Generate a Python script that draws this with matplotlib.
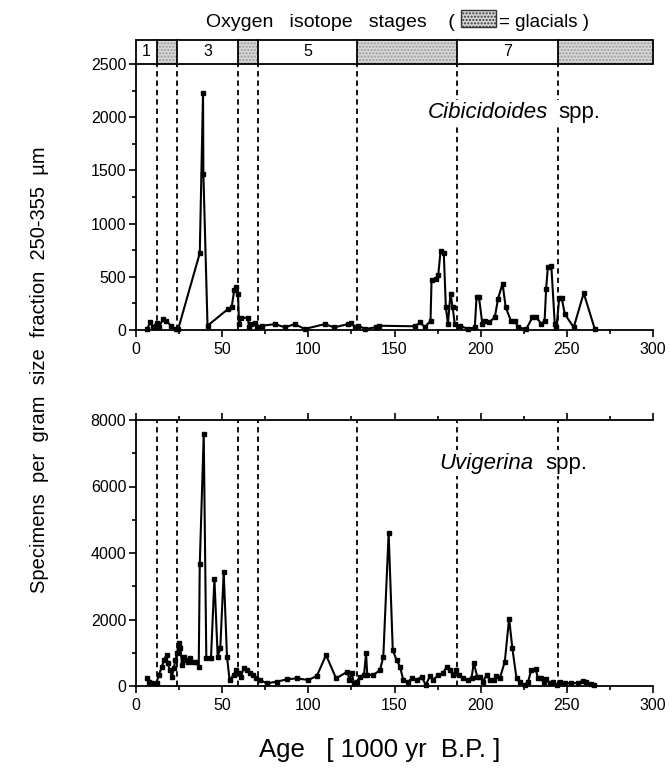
import matplotlib
matplotlib.use("Agg")
import matplotlib.pyplot as plt
from matplotlib.patches import Rectangle
from matplotlib.ticker import MultipleLocator

plt.rcParams['font.family'] = ['Liberation Sans', 'DejaVu Sans']

# ---------------- data ----------------
stage_bounds = [0, 12, 24, 59, 71, 128, 186, 245, 300]
stage_labels = ['1', '', '3', '', '5', '', '7', '']
stage_glacial = [False, True, False, True, False, True, False, True]
boundaries = [12, 24, 59, 71, 128, 186, 245]

cib_age = [6.5, 8.2, 10, 12, 13.3, 15.6, 17.5, 20.3, 23, 24.5,
           37, 38.9, 39.1, 41.5, 53.6, 55.5, 57, 58.3, 59.2, 59.8,
           61, 65, 65.5, 67, 69, 70.5, 73, 80.7, 86.5, 92,
           98, 109.5, 115, 123, 125, 127, 129, 133, 139, 141,
           161.8, 165, 167.6, 170.9, 171.5, 174, 175.4, 176.7, 178.6, 179.8,
           181, 182.5, 183.7, 185, 188, 192.7, 196.6, 197.6, 199, 201,
           202.3, 204.9, 208.2, 210.1, 212.7, 214.5, 217.5, 219.8, 221.7, 226.5,
           230, 232.3, 235.2, 237.1, 238, 239, 241, 243, 244, 245.6,
           247, 248.8, 254, 259.8, 266.2]
cib_val = [10, 72, 25, 70, 25, 100, 85, 40, 10, 10,
           722, 2230, 1470, 40, 200, 215, 373, 405, 340, 55,
           115, 115, 25, 55, 70, 25, 40, 55, 25, 55,
           10, 55, 25, 55, 70, 25, 40, 10, 25, 40,
           35, 72, 25, 88, 469, 475, 517, 739, 723, 215,
           56, 342, 215, 56, 40, 10, 25, 310, 310, 56,
           88, 72, 119, 295, 437, 215, 88, 88, 25, 10,
           119, 119, 56, 88, 390, 596, 602, 56, 25, 303,
           303, 150, 25, 347, 10]

uvi_age = [6.1, 7.4, 9.4, 11.9, 13.2, 15.1, 16.1, 17.7, 18.4, 19.6,
           20.9, 21.9, 22.9, 23.8, 24.8, 25.8, 26.7, 27.7, 28.7, 30,
           31.6, 33.1, 35, 36.4, 37, 39.3, 40.8, 43.5, 45.5, 47.4,
           48.9, 50.9, 52.8, 54.3, 56.6, 58.2, 59.5, 60.9, 62.4, 64.4,
           65.9, 67.8, 69.8, 72.1, 75.9, 81.7, 87.5, 93.3, 100, 104.9,
           110.3, 116.1, 122.7, 123.8, 125.2, 126.5, 128.1, 130, 132.3, 133.5,
           134.2, 137.7, 141.6, 143.5, 146.6, 149, 151.2, 153.2, 155.1, 158,
           160, 162.8, 165.7, 168.2, 170.5, 172.4, 175.3, 178.2, 180.2, 182.1,
           184, 185.6, 187.5, 189.9, 192.7, 194.7, 196, 198, 199.9, 201.4,
           203.4, 205.3, 207.6, 209.1, 211.1, 214, 216.5, 218.4, 220.8, 222.6,
           225.5, 227.5, 229.4, 231.9, 233.3, 235.2, 236.6, 238.1, 240, 242,
           244.3, 245.9, 248.7, 252.6, 256.5, 259.3, 261.3, 264.1, 266]
uvi_val = [230, 130, 80, 100, 330, 580, 780, 930, 680, 480,
           280, 530, 780, 980, 1280, 1130, 630, 880, 780, 730,
           830, 730, 730, 580, 3660, 7580, 830, 830, 3230, 880,
           1130, 3430, 880, 180, 330, 480, 380, 280, 530, 480,
           380, 330, 230, 180, 80, 130, 200, 230, 180, 300,
           930, 230, 430, 180, 380, 80, 130, 280, 330, 980,
           330, 330, 480, 880, 4600, 1080, 780, 580, 180, 130,
           230, 180, 280, 30, 300, 180, 330, 380, 580, 480,
           330, 480, 330, 230, 180, 230, 700, 280, 280, 130,
           330, 180, 180, 300, 230, 730, 2030, 1130, 230, 130,
           30, 130, 480, 500, 230, 230, 130, 200, 80, 130,
           30, 130, 80, 80, 100, 160, 130, 60, 30]

assert len(cib_age) == len(cib_val), (len(cib_age), len(cib_val))
assert len(uvi_age) == len(uvi_val), (len(uvi_age), len(uvi_val))

# ---------------- figure ----------------
W, H = 670, 769
fig = plt.figure(figsize=(W / 100, H / 100), dpi=100)

def fx(px):
    return px / W

def fy(py):
    return 1 - py / H

left_px, right_px = 136, 653
ax1 = fig.add_axes([fx(left_px), fy(330), fx(right_px - left_px), (330 - 64) / H])
ax2 = fig.add_axes([fx(left_px), fy(686), fx(right_px - left_px), (686 - 420) / H])
axbar = fig.add_axes([fx(left_px), fy(64), fx(right_px - left_px), (64 - 40) / H])

lw_line = 1.5
for ax, age, val, ymax, major, minor in [
        (ax1, cib_age, cib_val, 2500, 500, 250),
        (ax2, uvi_age, uvi_val, 8000, 2000, 1000)]:
    ax.plot(age, val, color='black', lw=lw_line, marker='s', ms=2.8,
            mfc='black', mec='black', zorder=3, clip_on=False)
    for b in boundaries:
        ax.axvline(b, color='black', lw=1.3, ls=(0, (3, 2.2)), zorder=1)
    ax.set_xlim(0, 300)
    ax.set_ylim(0, ymax)
    ax.xaxis.set_major_locator(MultipleLocator(50))
    ax.xaxis.set_minor_locator(MultipleLocator(25))
    ax.yaxis.set_major_locator(MultipleLocator(major))
    ax.yaxis.set_minor_locator(MultipleLocator(minor))
    ax.spines['right'].set_visible(False)
    for s in ['left', 'bottom', 'top']:
        ax.spines[s].set_linewidth(1.3)
    ax.tick_params(which='both', direction='out', width=1.2, labelsize=11.5,
                   colors='black')
    ax.tick_params(which='major', length=5)
    ax.tick_params(which='minor', length=3)
    ax.tick_params(axis='y', pad=2)

ax1.spines['top'].set_visible(False)
ax1.tick_params(top=False, which='both')
ax2.tick_params(top=True, which='both', labeltop=False)

# species labels
sp_fs = 16
box = dict(facecolor='white', edgecolor='none', pad=2)
ax1.text(238.9, 1990, 'Cibicidoides', style='italic', fontsize=sp_fs, ha='right',
         va='baseline', zorder=4, bbox=box)
ax1.text(245.0, 1990, 'spp.', fontsize=sp_fs, ha='left', va='baseline', zorder=4,
         bbox=box)
ax2.text(230.7, 6540, 'Uvigerina', style='italic', fontsize=sp_fs, ha='right',
         va='baseline', zorder=4, bbox=box)
ax2.text(237.5, 6540, 'spp.', fontsize=sp_fs, ha='left', va='baseline', zorder=4,
         bbox=box)

# stage bar
axbar.set_xlim(0, 300)
axbar.set_ylim(0, 1)
axbar.axis('off')
for i in range(len(stage_labels)):
    x0, x1 = stage_bounds[i], stage_bounds[i + 1]
    if stage_glacial[i]:
        axbar.add_patch(Rectangle((x0, 0), x1 - x0, 1, facecolor='#d6d6d6',
                                  hatch='.....', edgecolor='#9a9a9a', lw=0,
                                  clip_on=False))
    if stage_labels[i]:
        axbar.text((x0 + x1) / 2, 0.5, stage_labels[i], ha='center', va='center',
                   fontsize=11.5)
axbar.add_patch(Rectangle((0, 0), 300, 1, facecolor='none', edgecolor='black',
                          lw=1.3, clip_on=False))
for b in boundaries:
    axbar.plot([b, b], [0, 1], color='black', lw=1.3, clip_on=False)

# title with legend box
fig.text(fx(455), fy(27), 'Oxygen   isotope   stages    (', ha='right', va='baseline',
         fontsize=14)
fig.patches.append(Rectangle((fx(461), fy(27)), fx(496 - 461), (27 - 10) / H,
                             transform=fig.transFigure, facecolor='#d6d6d6',
                             hatch='.....', edgecolor='#333333', lw=1.0))
fig.text(fx(499), fy(27), '= glacials )', ha='left', va='baseline', fontsize=13.5)

# axis labels
fig.text(fx(40), fy(370), 'Specimens  per  gram  size  fraction  250-355  µm',
         rotation=90, ha='center', va='center', fontsize=14.5,
         family=['Liberation Sans Narrow', 'Liberation Sans', 'DejaVu Sans'])
fig.text(fx(380), fy(750), 'Age   [ 1000 yr  B.P. ]', ha='center', va='center',
         fontsize=18.5)

fig.savefig('out.png', dpi=100)
